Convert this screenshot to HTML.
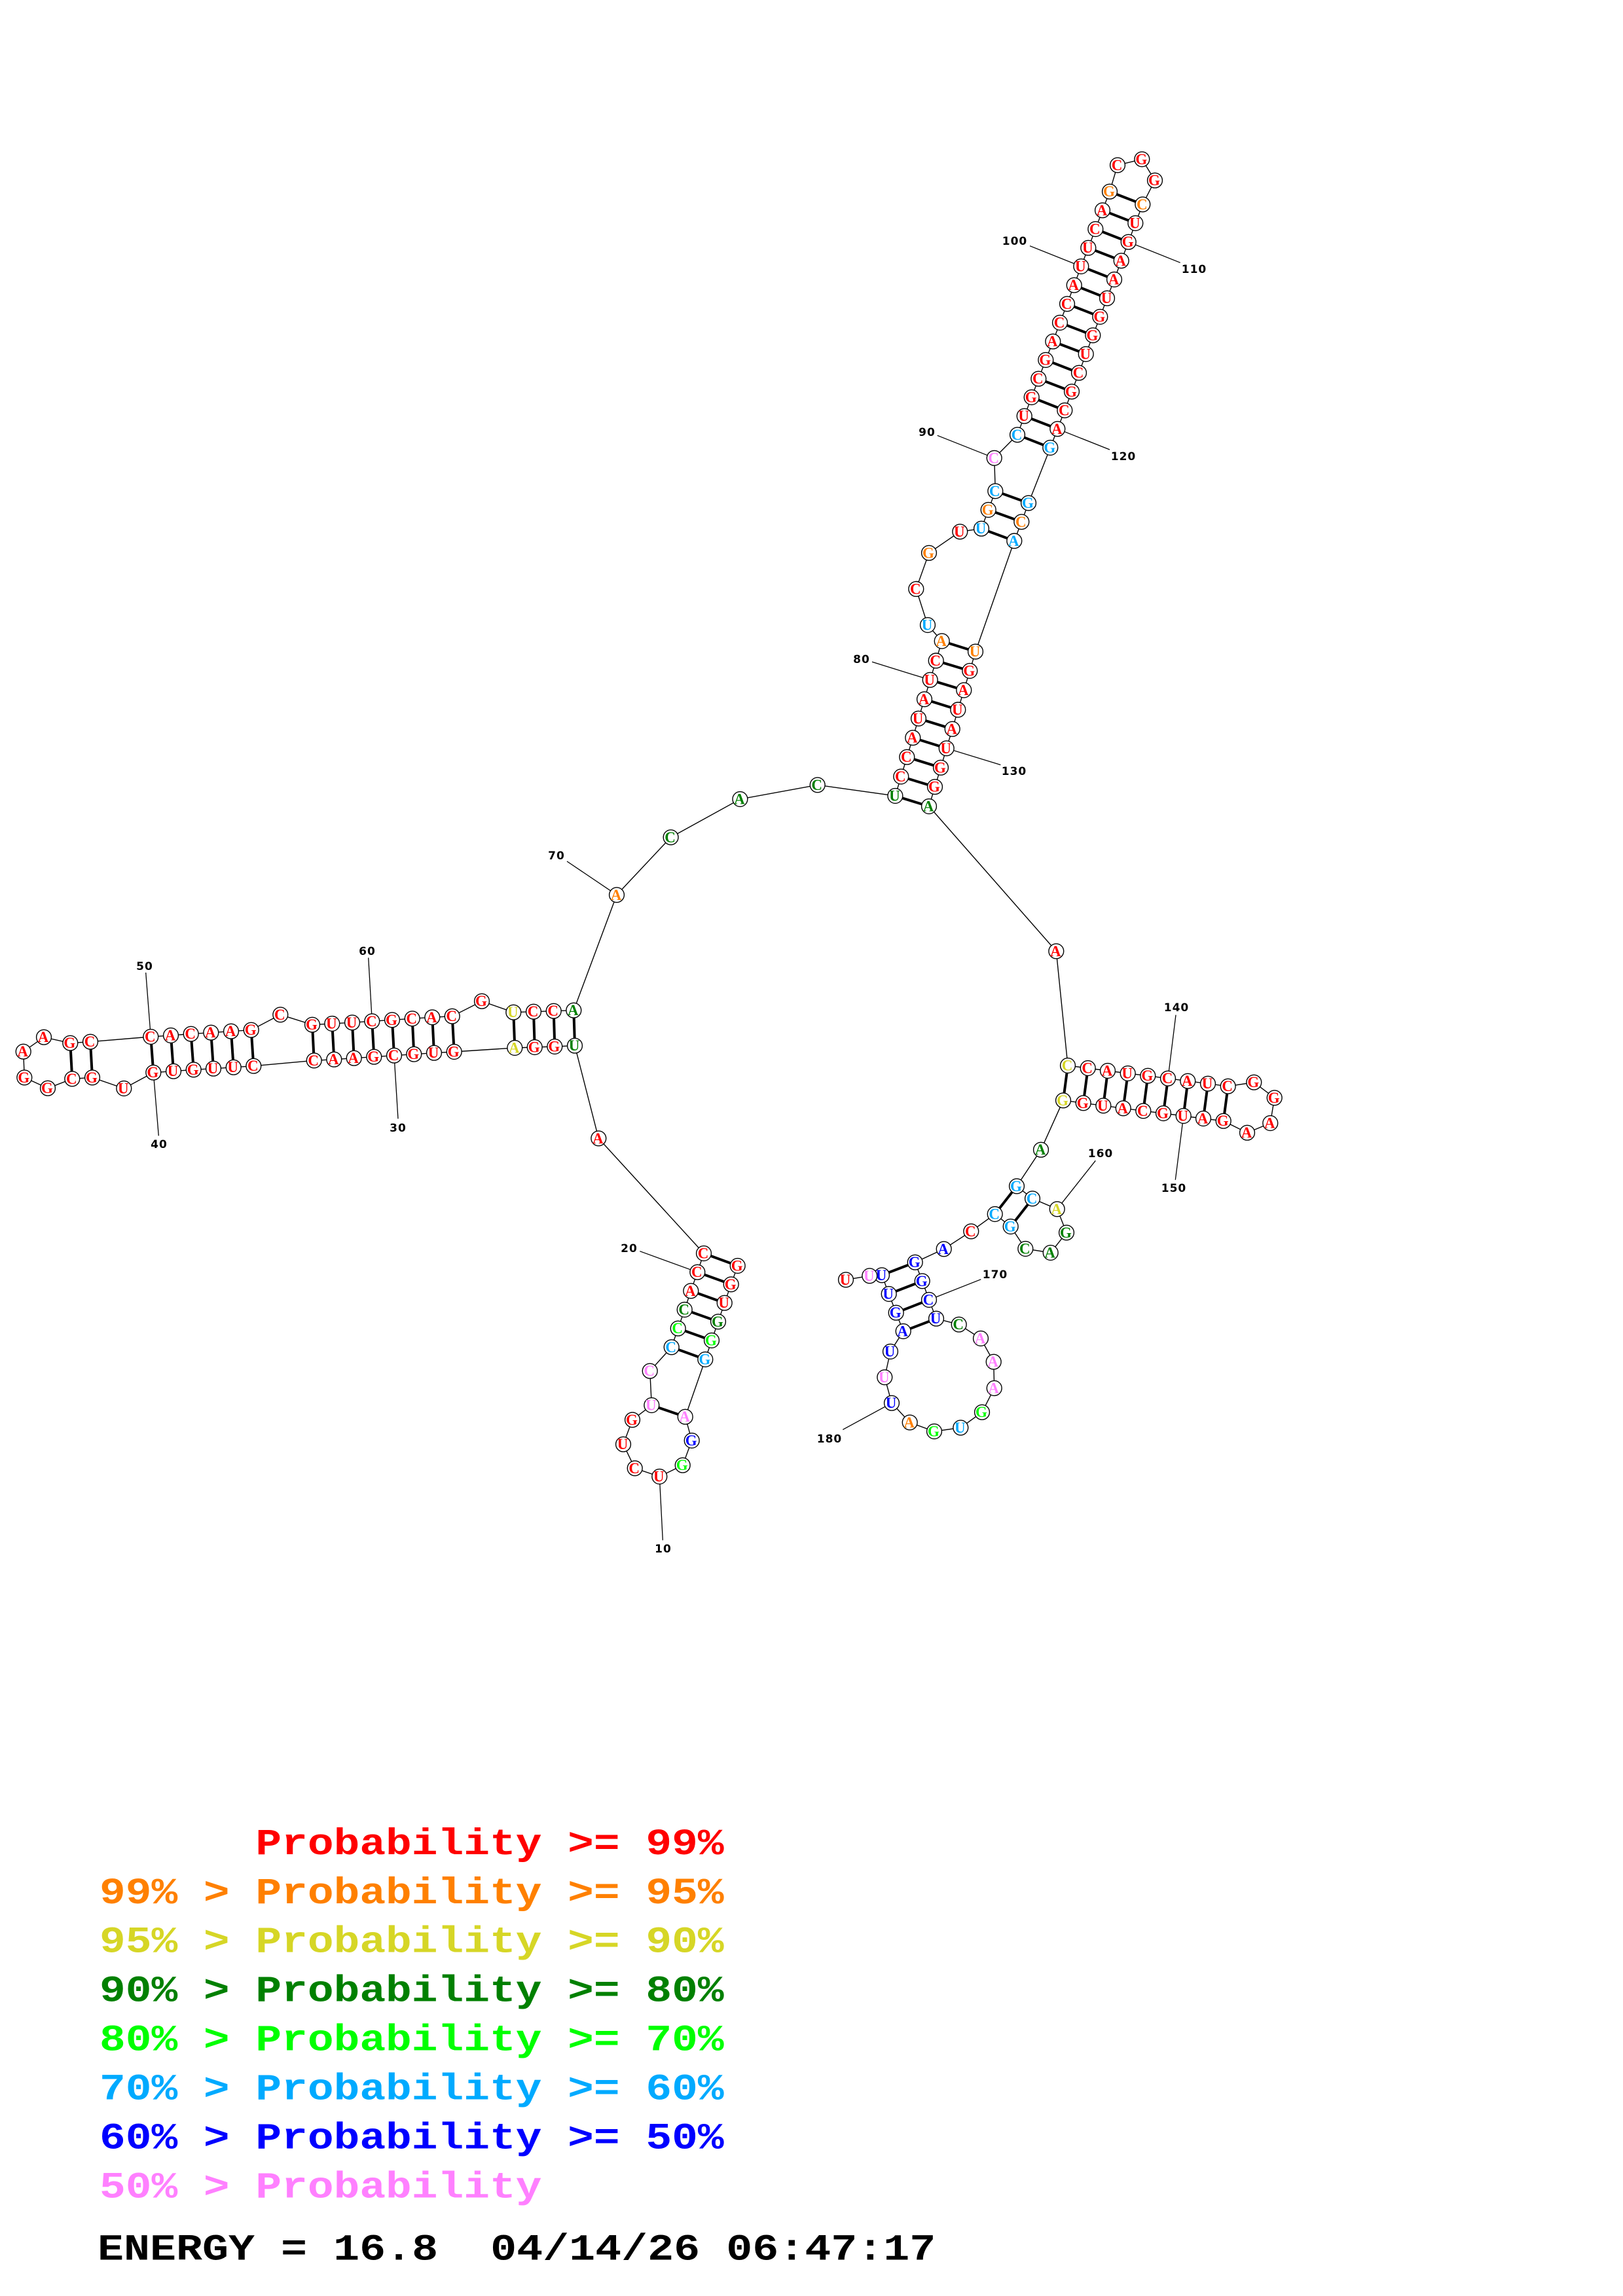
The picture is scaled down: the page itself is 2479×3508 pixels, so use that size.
<!DOCTYPE html>
<html><head><meta charset="utf-8"><title>RNA structure</title>
<style>
html,body{margin:0;padding:0;background:#fff}
svg{display:block}
.b{fill:none;stroke:#000;stroke-width:1.4}
.l{stroke:#000;stroke-width:1.3}
.p{stroke:#000;stroke-width:4}
.c circle{fill:#fff;stroke:#000;stroke-width:1.4}
.n text{font-family:"Liberation Serif",serif;font-weight:bold;font-size:23px;text-anchor:middle}
.t text{font-family:"DejaVu Sans",sans-serif;font-weight:bold;font-size:17px;letter-spacing:1px;text-anchor:middle;fill:#000}
.g text{font-family:"Liberation Mono",monospace;font-weight:bold;font-size:57px;white-space:pre}
</style></head><body>
<svg xmlns="http://www.w3.org/2000/svg" width="2479" height="3508" viewBox="0 0 2479 3508">
<rect width="2479" height="3508" fill="#fff"/>
<polyline class="b" points="1126.7,1934 1116.7,1962.3 1106.7,1990.7 1097,2019.3 1087,2048 1077.3,2077 1046.7,2164.7 1056.7,2201 1042.7,2238.7 1007.3,2256 969.7,2243.3 952,2206.7 966,2169.3 995.3,2147 992.7,2094.7 1025.7,2058.3 1035.7,2029.7 1045.7,2001 1055.3,1972.3 1065.3,1943.7 1075,1915 914.3,1739.3 878,1597.7 847.3,1599 816.7,1600 786.3,1601 693.7,1607 663,1608.7 632.3,1610.7 602,1612.7 571.3,1614.7 540.7,1616.7 510.3,1618.7 479.7,1620.3 387.3,1628.7 356.7,1630.7 326,1632.7 295.7,1634.3 265,1636.7 234.3,1638.7 189.3,1663 141,1646.3 110.3,1648.3 73,1662.7 37.3,1646.3 35.7,1606.7 67,1584.7 107.3,1593.7 138,1591.7 230.3,1584 261,1582 291.7,1579.7 322.3,1577.7 353,1575.7 383.7,1573.7 428.3,1550.3 477,1565.7 507.3,1564 538,1562.3 568.3,1560.3 599,1558.3 629.7,1556.3 660.3,1554.3 690.7,1552.7 736,1529.7 784.3,1546.7 815,1545.7 845.7,1544.7 876.3,1543.7 942,1367.3 1024.6,1279.3 1130.4,1221 1248.7,1199.3 1367.4,1216 1376.3,1186.5 1385.3,1156.7 1394.3,1127.2 1403,1097.8 1412,1068.3 1420.7,1038.8 1429.7,1009.4 1438.7,979.5 1417,955 1399.3,899.9 1419,844.8 1466.3,812.3 1499,807.7 1509.7,779 1520.3,750.3 1518.7,699.8 1554,664.3 1564.7,635.7 1575.7,607 1586.3,578.7 1597.3,550 1608.3,521.7 1619,493 1630,464.3 1640.7,435.7 1651.3,407 1662.3,378.7 1673.3,350 1684,321.3 1695,292.7 1707,252.3 1744.3,243.3 1764,275.7 1745.3,312.3 1734.3,341 1723.7,369.7 1712.7,398.3 1702,427 1691,455.7 1680.3,484 1669.3,512.3 1658.7,541 1648,569.7 1637,598.3 1626.3,627 1615.3,655.3 1604.3,684 1571,768.6 1560.3,797.3 1549.3,826.4 1490,995.6 1481.3,1025 1472.3,1054.5 1463.3,1084.4 1454.7,1113.8 1445.7,1143.3 1437,1172.8 1428,1202.2 1419,1232 1613.3,1453.3 1631,1628 1661.7,1632 1692,1636 1722.7,1640 1753.3,1643.7 1784,1647.7 1814.3,1651.7 1845,1655.7 1875.7,1659.7 1915.3,1653.7 1946.7,1677.3 1940.3,1716 1905,1730.7 1868.7,1712.7 1838,1709 1807.7,1705 1777,1701 1746.3,1697.3 1715.7,1693.3 1685.3,1689.3 1654.7,1685.3 1624,1681.3 1590,1756.7 1553,1812.3 1577,1831.3 1614.7,1847.3 1629,1883.3 1604.7,1914 1566.3,1908 1543.7,1874 1519.7,1855 1483.3,1881.3 1441.7,1908.3 1397.7,1928.7 1408.7,1957.3 1419,1986 1430,2014.7 1464.7,2023.7 1498,2045 1517.7,2080.7 1518.7,2121 1500,2157.7 1467.3,2181.3 1427,2187 1389.7,2173.3 1362,2143.7 1351.3,2104.3 1360,2065 1379.7,2034 1368.7,2005.7 1357.7,1977 1347,1948.3 1328.3,1949.3 1292,1955.3"/>
<g class="p">
<line x1="1126.7" y1="1934" x2="1075" y2="1915"/><line x1="1116.7" y1="1962.3" x2="1065.3" y2="1943.7"/><line x1="1106.7" y1="1990.7" x2="1055.3" y2="1972.3"/><line x1="1097" y1="2019.3" x2="1045.7" y2="2001"/><line x1="1087" y1="2048" x2="1035.7" y2="2029.7"/><line x1="1077.3" y1="2077" x2="1025.7" y2="2058.3"/><line x1="1046.7" y1="2164.7" x2="995.3" y2="2147"/>
<line x1="878" y1="1597.7" x2="876.3" y2="1543.7"/><line x1="847.3" y1="1599" x2="845.7" y2="1544.7"/><line x1="816.7" y1="1600" x2="815" y2="1545.7"/><line x1="786.3" y1="1601" x2="784.3" y2="1546.7"/><line x1="693.7" y1="1607" x2="690.7" y2="1552.7"/><line x1="663" y1="1608.7" x2="660.3" y2="1554.3"/><line x1="632.3" y1="1610.7" x2="629.7" y2="1556.3"/><line x1="602" y1="1612.7" x2="599" y2="1558.3"/><line x1="571.3" y1="1614.7" x2="568.3" y2="1560.3"/><line x1="540.7" y1="1616.7" x2="538" y2="1562.3"/><line x1="510.3" y1="1618.7" x2="507.3" y2="1564"/><line x1="479.7" y1="1620.3" x2="477" y2="1565.7"/>
<line x1="387.3" y1="1628.7" x2="383.7" y2="1573.7"/><line x1="356.7" y1="1630.7" x2="353" y2="1575.7"/><line x1="326" y1="1632.7" x2="322.3" y2="1577.7"/><line x1="295.7" y1="1634.3" x2="291.7" y2="1579.7"/><line x1="265" y1="1636.7" x2="261" y2="1582"/><line x1="234.3" y1="1638.7" x2="230.3" y2="1584"/><line x1="141" y1="1646.3" x2="138" y2="1591.7"/><line x1="110.3" y1="1648.3" x2="107.3" y2="1593.7"/>
<line x1="1367.4" y1="1216" x2="1419" y2="1232"/><line x1="1376.3" y1="1186.5" x2="1428" y2="1202.2"/><line x1="1385.3" y1="1156.7" x2="1437" y2="1172.8"/><line x1="1394.3" y1="1127.2" x2="1445.7" y2="1143.3"/><line x1="1403" y1="1097.8" x2="1454.7" y2="1113.8"/><line x1="1412" y1="1068.3" x2="1463.3" y2="1084.4"/><line x1="1420.7" y1="1038.8" x2="1472.3" y2="1054.5"/><line x1="1429.7" y1="1009.4" x2="1481.3" y2="1025"/><line x1="1438.7" y1="979.5" x2="1490" y2="995.6"/>
<line x1="1499" y1="807.7" x2="1549.3" y2="826.4"/><line x1="1509.7" y1="779" x2="1560.3" y2="797.3"/><line x1="1520.3" y1="750.3" x2="1571" y2="768.6"/>
<line x1="1554" y1="664.3" x2="1604.3" y2="684"/><line x1="1564.7" y1="635.7" x2="1615.3" y2="655.3"/><line x1="1575.7" y1="607" x2="1626.3" y2="627"/><line x1="1586.3" y1="578.7" x2="1637" y2="598.3"/><line x1="1597.3" y1="550" x2="1648" y2="569.7"/><line x1="1608.3" y1="521.7" x2="1658.7" y2="541"/><line x1="1619" y1="493" x2="1669.3" y2="512.3"/><line x1="1630" y1="464.3" x2="1680.3" y2="484"/><line x1="1640.7" y1="435.7" x2="1691" y2="455.7"/><line x1="1651.3" y1="407" x2="1702" y2="427"/><line x1="1662.3" y1="378.7" x2="1712.7" y2="398.3"/><line x1="1673.3" y1="350" x2="1723.7" y2="369.7"/><line x1="1684" y1="321.3" x2="1734.3" y2="341"/><line x1="1695" y1="292.7" x2="1745.3" y2="312.3"/>
<line x1="1631" y1="1628" x2="1624" y2="1681.3"/><line x1="1661.7" y1="1632" x2="1654.7" y2="1685.3"/><line x1="1692" y1="1636" x2="1685.3" y2="1689.3"/><line x1="1722.7" y1="1640" x2="1715.7" y2="1693.3"/><line x1="1753.3" y1="1643.7" x2="1746.3" y2="1697.3"/><line x1="1784" y1="1647.7" x2="1777" y2="1701"/><line x1="1814.3" y1="1651.7" x2="1807.7" y2="1705"/><line x1="1845" y1="1655.7" x2="1838" y2="1709"/><line x1="1875.7" y1="1659.7" x2="1868.7" y2="1712.7"/>
<line x1="1553" y1="1812.3" x2="1519.7" y2="1855"/><line x1="1577" y1="1831.3" x2="1543.7" y2="1874"/>
<line x1="1397.7" y1="1928.7" x2="1347" y2="1948.3"/><line x1="1408.7" y1="1957.3" x2="1357.7" y2="1977"/><line x1="1419" y1="1986" x2="1368.7" y2="2005.7"/><line x1="1430" y1="2014.7" x2="1379.7" y2="2034"/>
</g>
<g class="l">
<line x1="1007.3" y1="2256" x2="1012.3" y2="2353.3"/><line x1="1065.3" y1="1943.7" x2="977.3" y2="1911.7"/><line x1="602" y1="1612.7" x2="608" y2="1709.3"/><line x1="234.3" y1="1638.7" x2="242.3" y2="1735.3"/><line x1="230.3" y1="1584" x2="222.7" y2="1486"/><line x1="568.3" y1="1560.3" x2="562.7" y2="1463.3"/><line x1="942" y1="1367.3" x2="866" y2="1316"/><line x1="1420.7" y1="1038.8" x2="1332" y2="1011.3"/><line x1="1518.7" y1="699.8" x2="1431.7" y2="665.3"/><line x1="1651.3" y1="407" x2="1573" y2="375.7"/><line x1="1723.7" y1="369.7" x2="1802.7" y2="401.3"/><line x1="1615.3" y1="655.3" x2="1695" y2="687"/><line x1="1445.7" y1="1143.3" x2="1528.3" y2="1168.6"/><line x1="1784" y1="1647.7" x2="1796" y2="1550.7"/><line x1="1807.7" y1="1705" x2="1795.3" y2="1802.7"/><line x1="1614.7" y1="1847.3" x2="1673.3" y2="1773.3"/><line x1="1419" y1="1986" x2="1498.3" y2="1954.7"/><line x1="1362" y1="2143.7" x2="1287.3" y2="2184.3"/>
</g>
<g class="c">
<circle cx="1126.7" cy="1934" r="11.4"/><circle cx="1116.7" cy="1962.3" r="11.4"/><circle cx="1106.7" cy="1990.7" r="11.4"/><circle cx="1097" cy="2019.3" r="11.4"/><circle cx="1087" cy="2048" r="11.4"/><circle cx="1077.3" cy="2077" r="11.4"/><circle cx="1046.7" cy="2164.7" r="11.4"/><circle cx="1056.7" cy="2201" r="11.4"/><circle cx="1042.7" cy="2238.7" r="11.4"/><circle cx="1007.3" cy="2256" r="11.4"/><circle cx="969.7" cy="2243.3" r="11.4"/><circle cx="952" cy="2206.7" r="11.4"/><circle cx="966" cy="2169.3" r="11.4"/><circle cx="995.3" cy="2147" r="11.4"/><circle cx="992.7" cy="2094.7" r="11.4"/><circle cx="1025.7" cy="2058.3" r="11.4"/><circle cx="1035.7" cy="2029.7" r="11.4"/><circle cx="1045.7" cy="2001" r="11.4"/><circle cx="1055.3" cy="1972.3" r="11.4"/><circle cx="1065.3" cy="1943.7" r="11.4"/><circle cx="1075" cy="1915" r="11.4"/><circle cx="914.3" cy="1739.3" r="11.4"/>
<circle cx="878" cy="1597.7" r="11.4"/><circle cx="847.3" cy="1599" r="11.4"/><circle cx="816.7" cy="1600" r="11.4"/><circle cx="786.3" cy="1601" r="11.4"/><circle cx="693.7" cy="1607" r="11.4"/><circle cx="663" cy="1608.7" r="11.4"/><circle cx="632.3" cy="1610.7" r="11.4"/><circle cx="602" cy="1612.7" r="11.4"/><circle cx="571.3" cy="1614.7" r="11.4"/><circle cx="540.7" cy="1616.7" r="11.4"/><circle cx="510.3" cy="1618.7" r="11.4"/><circle cx="479.7" cy="1620.3" r="11.4"/><circle cx="387.3" cy="1628.7" r="11.4"/><circle cx="356.7" cy="1630.7" r="11.4"/><circle cx="326" cy="1632.7" r="11.4"/><circle cx="295.7" cy="1634.3" r="11.4"/><circle cx="265" cy="1636.7" r="11.4"/><circle cx="234.3" cy="1638.7" r="11.4"/><circle cx="189.3" cy="1663" r="11.4"/><circle cx="141" cy="1646.3" r="11.4"/><circle cx="110.3" cy="1648.3" r="11.4"/><circle cx="73" cy="1662.7" r="11.4"/><circle cx="37.3" cy="1646.3" r="11.4"/><circle cx="35.7" cy="1606.7" r="11.4"/><circle cx="67" cy="1584.7" r="11.4"/><circle cx="107.3" cy="1593.7" r="11.4"/><circle cx="138" cy="1591.7" r="11.4"/><circle cx="230.3" cy="1584" r="11.4"/><circle cx="261" cy="1582" r="11.4"/><circle cx="291.7" cy="1579.7" r="11.4"/><circle cx="322.3" cy="1577.7" r="11.4"/><circle cx="353" cy="1575.7" r="11.4"/><circle cx="383.7" cy="1573.7" r="11.4"/><circle cx="428.3" cy="1550.3" r="11.4"/><circle cx="477" cy="1565.7" r="11.4"/><circle cx="507.3" cy="1564" r="11.4"/><circle cx="538" cy="1562.3" r="11.4"/><circle cx="568.3" cy="1560.3" r="11.4"/><circle cx="599" cy="1558.3" r="11.4"/><circle cx="629.7" cy="1556.3" r="11.4"/><circle cx="660.3" cy="1554.3" r="11.4"/><circle cx="690.7" cy="1552.7" r="11.4"/><circle cx="736" cy="1529.7" r="11.4"/><circle cx="784.3" cy="1546.7" r="11.4"/><circle cx="815" cy="1545.7" r="11.4"/><circle cx="845.7" cy="1544.7" r="11.4"/><circle cx="876.3" cy="1543.7" r="11.4"/>
<circle cx="942" cy="1367.3" r="11.4"/><circle cx="1024.6" cy="1279.3" r="11.4"/><circle cx="1130.4" cy="1221" r="11.4"/><circle cx="1248.7" cy="1199.3" r="11.4"/><circle cx="1367.4" cy="1216" r="11.4"/><circle cx="1376.3" cy="1186.5" r="11.4"/><circle cx="1385.3" cy="1156.7" r="11.4"/><circle cx="1394.3" cy="1127.2" r="11.4"/><circle cx="1403" cy="1097.8" r="11.4"/><circle cx="1412" cy="1068.3" r="11.4"/><circle cx="1420.7" cy="1038.8" r="11.4"/><circle cx="1429.7" cy="1009.4" r="11.4"/><circle cx="1438.7" cy="979.5" r="11.4"/><circle cx="1417" cy="955" r="11.4"/><circle cx="1399.3" cy="899.9" r="11.4"/><circle cx="1419" cy="844.8" r="11.4"/><circle cx="1466.3" cy="812.3" r="11.4"/><circle cx="1499" cy="807.7" r="11.4"/><circle cx="1509.7" cy="779" r="11.4"/><circle cx="1520.3" cy="750.3" r="11.4"/><circle cx="1518.7" cy="699.8" r="11.4"/><circle cx="1554" cy="664.3" r="11.4"/><circle cx="1564.7" cy="635.7" r="11.4"/><circle cx="1575.7" cy="607" r="11.4"/><circle cx="1586.3" cy="578.7" r="11.4"/><circle cx="1597.3" cy="550" r="11.4"/><circle cx="1608.3" cy="521.7" r="11.4"/><circle cx="1619" cy="493" r="11.4"/><circle cx="1630" cy="464.3" r="11.4"/><circle cx="1640.7" cy="435.7" r="11.4"/><circle cx="1651.3" cy="407" r="11.4"/><circle cx="1662.3" cy="378.7" r="11.4"/><circle cx="1673.3" cy="350" r="11.4"/><circle cx="1684" cy="321.3" r="11.4"/><circle cx="1695" cy="292.7" r="11.4"/><circle cx="1707" cy="252.3" r="11.4"/><circle cx="1744.3" cy="243.3" r="11.4"/><circle cx="1764" cy="275.7" r="11.4"/><circle cx="1745.3" cy="312.3" r="11.4"/><circle cx="1734.3" cy="341" r="11.4"/><circle cx="1723.7" cy="369.7" r="11.4"/><circle cx="1712.7" cy="398.3" r="11.4"/><circle cx="1702" cy="427" r="11.4"/><circle cx="1691" cy="455.7" r="11.4"/><circle cx="1680.3" cy="484" r="11.4"/><circle cx="1669.3" cy="512.3" r="11.4"/><circle cx="1658.7" cy="541" r="11.4"/><circle cx="1648" cy="569.7" r="11.4"/><circle cx="1637" cy="598.3" r="11.4"/><circle cx="1626.3" cy="627" r="11.4"/><circle cx="1615.3" cy="655.3" r="11.4"/><circle cx="1604.3" cy="684" r="11.4"/><circle cx="1571" cy="768.6" r="11.4"/><circle cx="1560.3" cy="797.3" r="11.4"/><circle cx="1549.3" cy="826.4" r="11.4"/><circle cx="1490" cy="995.6" r="11.4"/><circle cx="1481.3" cy="1025" r="11.4"/><circle cx="1472.3" cy="1054.5" r="11.4"/><circle cx="1463.3" cy="1084.4" r="11.4"/><circle cx="1454.7" cy="1113.8" r="11.4"/><circle cx="1445.7" cy="1143.3" r="11.4"/><circle cx="1437" cy="1172.8" r="11.4"/><circle cx="1428" cy="1202.2" r="11.4"/><circle cx="1419" cy="1232" r="11.4"/>
<circle cx="1613.3" cy="1453.3" r="11.4"/><circle cx="1631" cy="1628" r="11.4"/><circle cx="1661.7" cy="1632" r="11.4"/><circle cx="1692" cy="1636" r="11.4"/><circle cx="1722.7" cy="1640" r="11.4"/><circle cx="1753.3" cy="1643.7" r="11.4"/><circle cx="1784" cy="1647.7" r="11.4"/><circle cx="1814.3" cy="1651.7" r="11.4"/><circle cx="1845" cy="1655.7" r="11.4"/><circle cx="1875.7" cy="1659.7" r="11.4"/><circle cx="1915.3" cy="1653.7" r="11.4"/><circle cx="1946.7" cy="1677.3" r="11.4"/><circle cx="1940.3" cy="1716" r="11.4"/><circle cx="1905" cy="1730.7" r="11.4"/><circle cx="1868.7" cy="1712.7" r="11.4"/><circle cx="1838" cy="1709" r="11.4"/><circle cx="1807.7" cy="1705" r="11.4"/><circle cx="1777" cy="1701" r="11.4"/><circle cx="1746.3" cy="1697.3" r="11.4"/><circle cx="1715.7" cy="1693.3" r="11.4"/><circle cx="1685.3" cy="1689.3" r="11.4"/><circle cx="1654.7" cy="1685.3" r="11.4"/><circle cx="1624" cy="1681.3" r="11.4"/><circle cx="1590" cy="1756.7" r="11.4"/><circle cx="1553" cy="1812.3" r="11.4"/><circle cx="1577" cy="1831.3" r="11.4"/><circle cx="1614.7" cy="1847.3" r="11.4"/><circle cx="1629" cy="1883.3" r="11.4"/><circle cx="1604.7" cy="1914" r="11.4"/><circle cx="1566.3" cy="1908" r="11.4"/><circle cx="1543.7" cy="1874" r="11.4"/><circle cx="1519.7" cy="1855" r="11.4"/><circle cx="1483.3" cy="1881.3" r="11.4"/><circle cx="1441.7" cy="1908.3" r="11.4"/><circle cx="1397.7" cy="1928.7" r="11.4"/><circle cx="1408.7" cy="1957.3" r="11.4"/><circle cx="1419" cy="1986" r="11.4"/><circle cx="1430" cy="2014.7" r="11.4"/><circle cx="1464.7" cy="2023.7" r="11.4"/><circle cx="1498" cy="2045" r="11.4"/><circle cx="1517.7" cy="2080.7" r="11.4"/><circle cx="1518.7" cy="2121" r="11.4"/><circle cx="1500" cy="2157.7" r="11.4"/><circle cx="1467.3" cy="2181.3" r="11.4"/><circle cx="1427" cy="2187" r="11.4"/><circle cx="1389.7" cy="2173.3" r="11.4"/><circle cx="1362" cy="2143.7" r="11.4"/><circle cx="1351.3" cy="2104.3" r="11.4"/><circle cx="1360" cy="2065" r="11.4"/><circle cx="1379.7" cy="2034" r="11.4"/><circle cx="1368.7" cy="2005.7" r="11.4"/><circle cx="1357.7" cy="1977" r="11.4"/><circle cx="1347" cy="1948.3" r="11.4"/><circle cx="1328.3" cy="1949.3" r="11.4"/><circle cx="1292" cy="1955.3" r="11.4"/>
</g>
<g class="n" transform="translate(-1,7.5)" fill="#ff0000">
<text x="1126.7" y="1934">G</text><text x="1116.7" y="1962.3">G</text><text x="1106.7" y="1990.7">U</text><text x="1007.3" y="2256">U</text><text x="969.7" y="2243.3">C</text><text x="952" y="2206.7">U</text><text x="966" y="2169.3">G</text><text x="1055.3" y="1972.3">A</text><text x="1065.3" y="1943.7">C</text><text x="1075" y="1915">C</text><text x="914.3" y="1739.3">A</text>
<text x="847.3" y="1599">G</text><text x="816.7" y="1600">G</text><text x="693.7" y="1607">G</text><text x="663" y="1608.7">U</text><text x="632.3" y="1610.7">G</text><text x="602" y="1612.7">C</text><text x="571.3" y="1614.7">G</text><text x="540.7" y="1616.7">A</text><text x="510.3" y="1618.7">A</text><text x="479.7" y="1620.3">C</text><text x="387.3" y="1628.7">C</text><text x="356.7" y="1630.7">U</text><text x="326" y="1632.7">U</text><text x="295.7" y="1634.3">G</text><text x="265" y="1636.7">U</text><text x="234.3" y="1638.7">G</text><text x="189.3" y="1663">U</text><text x="141" y="1646.3">G</text><text x="110.3" y="1648.3">C</text><text x="73" y="1662.7">G</text><text x="37.3" y="1646.3">G</text><text x="35.7" y="1606.7">A</text><text x="67" y="1584.7">A</text><text x="107.3" y="1593.7">G</text><text x="138" y="1591.7">C</text><text x="230.3" y="1584">C</text><text x="261" y="1582">A</text><text x="291.7" y="1579.7">C</text><text x="322.3" y="1577.7">A</text><text x="353" y="1575.7">A</text><text x="383.7" y="1573.7">G</text><text x="428.3" y="1550.3">C</text><text x="477" y="1565.7">G</text><text x="507.3" y="1564">U</text><text x="538" y="1562.3">U</text><text x="568.3" y="1560.3">C</text><text x="599" y="1558.3">G</text><text x="629.7" y="1556.3">C</text><text x="660.3" y="1554.3">A</text><text x="690.7" y="1552.7">C</text><text x="736" y="1529.7">G</text><text x="815" y="1545.7">C</text><text x="845.7" y="1544.7">C</text>
<text x="1376.3" y="1186.5">C</text><text x="1385.3" y="1156.7">C</text><text x="1394.3" y="1127.2">A</text><text x="1403" y="1097.8">U</text><text x="1412" y="1068.3">A</text><text x="1420.7" y="1038.8">U</text><text x="1429.7" y="1009.4">C</text><text x="1399.3" y="899.9">C</text><text x="1466.3" y="812.3">U</text>
<text x="1564.7" y="635.7">U</text><text x="1575.7" y="607">G</text><text x="1586.3" y="578.7">C</text><text x="1597.3" y="550">G</text><text x="1608.3" y="521.7">A</text><text x="1619" y="493">C</text><text x="1630" y="464.3">C</text><text x="1640.7" y="435.7">A</text><text x="1651.3" y="407">U</text><text x="1662.3" y="378.7">U</text><text x="1673.3" y="350">C</text><text x="1684" y="321.3">A</text><text x="1707" y="252.3">C</text><text x="1744.3" y="243.3">G</text><text x="1764" y="275.7">G</text><text x="1734.3" y="341">U</text><text x="1723.7" y="369.7">G</text><text x="1712.7" y="398.3">A</text><text x="1702" y="427">A</text><text x="1691" y="455.7">U</text><text x="1680.3" y="484">G</text><text x="1669.3" y="512.3">G</text><text x="1658.7" y="541">U</text><text x="1648" y="569.7">C</text><text x="1637" y="598.3">G</text><text x="1626.3" y="627">C</text><text x="1615.3" y="655.3">A</text>
<text x="1481.3" y="1025">G</text><text x="1472.3" y="1054.5">A</text><text x="1463.3" y="1084.4">U</text><text x="1454.7" y="1113.8">A</text><text x="1445.7" y="1143.3">U</text><text x="1437" y="1172.8">G</text><text x="1428" y="1202.2">G</text><text x="1613.3" y="1453.3">A</text>
<text x="1661.7" y="1632">C</text><text x="1692" y="1636">A</text><text x="1722.7" y="1640">U</text><text x="1753.3" y="1643.7">G</text><text x="1784" y="1647.7">C</text><text x="1814.3" y="1651.7">A</text><text x="1845" y="1655.7">U</text><text x="1875.7" y="1659.7">C</text><text x="1915.3" y="1653.7">G</text><text x="1946.7" y="1677.3">G</text><text x="1940.3" y="1716">A</text><text x="1905" y="1730.7">A</text><text x="1868.7" y="1712.7">G</text><text x="1838" y="1709">A</text><text x="1807.7" y="1705">U</text><text x="1777" y="1701">G</text><text x="1746.3" y="1697.3">C</text><text x="1715.7" y="1693.3">A</text><text x="1685.3" y="1689.3">U</text><text x="1654.7" y="1685.3">G</text>
<text x="1483.3" y="1881.3">C</text><text x="1292" y="1955.3">U</text>
</g>
<g class="n" transform="translate(-1,7.5)" fill="#ff8000">
<text x="942" y="1367.3">A</text><text x="1438.7" y="979.5">A</text><text x="1419" y="844.8">G</text><text x="1509.7" y="779">G</text><text x="1695" y="292.7">G</text><text x="1745.3" y="312.3">C</text><text x="1560.3" y="797.3">C</text><text x="1490" y="995.6">U</text><text x="1389.7" y="2173.3">A</text>
</g>
<g class="n" transform="translate(-1,7.5)" fill="#d6d626">
<text x="786.3" y="1601">A</text><text x="784.3" y="1546.7">U</text><text x="1631" y="1628">C</text><text x="1624" y="1681.3">G</text><text x="1614.7" y="1847.3">A</text>
</g>
<g class="n" transform="translate(-1,7.5)" fill="#008000">
<text x="1097" y="2019.3">G</text><text x="1045.7" y="2001">C</text><text x="878" y="1597.7">U</text><text x="876.3" y="1543.7">A</text><text x="1024.6" y="1279.3">C</text><text x="1130.4" y="1221">A</text><text x="1248.7" y="1199.3">C</text><text x="1367.4" y="1216">U</text><text x="1419" y="1232">A</text><text x="1590" y="1756.7">A</text><text x="1629" y="1883.3">G</text><text x="1604.7" y="1914">A</text><text x="1566.3" y="1908">C</text><text x="1464.7" y="2023.7">C</text>
</g>
<g class="n" transform="translate(-1,7.5)" fill="#00ff00">
<text x="1087" y="2048">G</text><text x="1042.7" y="2238.7">G</text><text x="1035.7" y="2029.7">C</text><text x="1500" y="2157.7">G</text><text x="1427" y="2187">G</text>
</g>
<g class="n" transform="translate(-1,7.5)" fill="#00aaff">
<text x="1077.3" y="2077">G</text><text x="1025.7" y="2058.3">C</text><text x="1417" y="955">U</text><text x="1499" y="807.7">U</text><text x="1520.3" y="750.3">C</text><text x="1554" y="664.3">C</text><text x="1604.3" y="684">G</text><text x="1571" y="768.6">G</text><text x="1549.3" y="826.4">A</text><text x="1553" y="1812.3">G</text><text x="1577" y="1831.3">C</text><text x="1543.7" y="1874">G</text><text x="1519.7" y="1855">C</text><text x="1467.3" y="2181.3">U</text>
</g>
<g class="n" transform="translate(-1,7.5)" fill="#0000ff">
<text x="1056.7" y="2201">G</text><text x="1441.7" y="1908.3">A</text><text x="1397.7" y="1928.7">G</text><text x="1408.7" y="1957.3">G</text><text x="1419" y="1986">C</text><text x="1430" y="2014.7">U</text><text x="1362" y="2143.7">U</text><text x="1360" y="2065">U</text><text x="1379.7" y="2034">A</text><text x="1368.7" y="2005.7">G</text><text x="1357.7" y="1977">U</text><text x="1347" y="1948.3">U</text>
</g>
<g class="n" transform="translate(-1,7.5)" fill="#ff80ff">
<text x="1046.7" y="2164.7">A</text><text x="995.3" y="2147">U</text><text x="992.7" y="2094.7">C</text><text x="1518.7" y="699.8">C</text><text x="1498" y="2045">A</text><text x="1517.7" y="2080.7">A</text><text x="1518.7" y="2121">A</text><text x="1351.3" y="2104.3">U</text><text x="1328.3" y="1949.3">U</text>
</g>
<g class="t">
<text x="1013" y="2372">10</text><text x="961" y="1913">20</text><text x="608" y="1729">30</text><text x="243" y="1754">40</text><text x="221" y="1482">50</text><text x="561" y="1459">60</text><text x="850" y="1313">70</text><text x="1316" y="1013">80</text><text x="1416" y="666">90</text><text x="1550" y="374">100</text><text x="1824" y="417">110</text><text x="1716" y="703">120</text><text x="1549" y="1184">130</text><text x="1797" y="1545">140</text><text x="1793" y="1821">150</text><text x="1681" y="1768">160</text><text x="1520" y="1953">170</text><text x="1267" y="2204">180</text>
</g>
<g class="g">
<text transform="translate(152,2833) scale(1.162,1)" fill="#ff0000">      Probability &gt;= 99%</text>
<text transform="translate(152,2908) scale(1.162,1)" fill="#ff8000">99% &gt; Probability &gt;= 95%</text>
<text transform="translate(152,2982.5) scale(1.162,1)" fill="#d6d626">95% &gt; Probability &gt;= 90%</text>
<text transform="translate(152,3057.5) scale(1.162,1)" fill="#008000">90% &gt; Probability &gt;= 80%</text>
<text transform="translate(152,3132.5) scale(1.162,1)" fill="#00ff00">80% &gt; Probability &gt;= 70%</text>
<text transform="translate(152,3207.5) scale(1.162,1)" fill="#00aaff">70% &gt; Probability &gt;= 60%</text>
<text transform="translate(152,3282.5) scale(1.162,1)" fill="#0000ff">60% &gt; Probability &gt;= 50%</text>
<text transform="translate(152,3357.5) scale(1.162,1)" fill="#ff80ff">50% &gt; Probability</text>
<text transform="translate(149,3452.5) scale(1.17,1)" fill="#000000">ENERGY = 16.8  04/14/26 06:47:17</text>
</g>
</svg>
</body></html>
